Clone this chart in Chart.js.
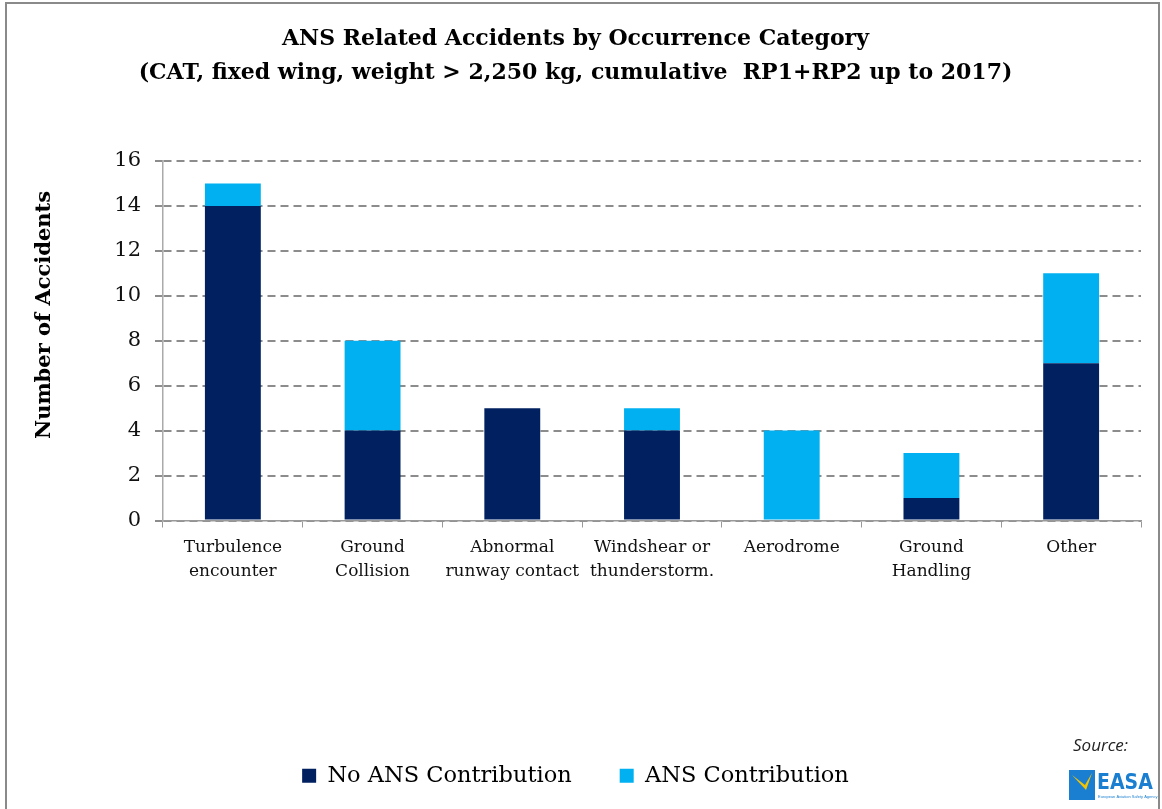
<!DOCTYPE html>
<html>
<head>
<meta charset="utf-8">
<script src="https://cdn.jsdelivr.net/npm/chart.js@4/dist/chart.umd.min.js"></script>
<style>
  html, body { margin: 0; padding: 0; background: #fff; }
  #wrap { width: 1162px; height: 809px; position: relative; }
</style>
</head>
<body>
<div id="wrap"><canvas id="chart" width="1162" height="809"></canvas></div>
<script>
// ─── DATA ───────────────────────────────────────────
const categories = [
    ['Turbulence', 'encounter'],
    ['Ground', 'Collision'],
    ['Abnormal', 'runway contact'],
    ['Windshear or', 'thunderstorm.'],
    ['Aerodrome'],
    ['Ground', 'Handling'],
    ['Other']
];
const noAnsValues = [14, 4, 5, 4, 0, 1, 7];
const ansValues = [1, 4, 0, 1, 4, 2, 4];
const yTicks = [0, 2, 4, 6, 8, 10, 12, 14, 16];
const yTitle = 'Number of Accidents';

const NAVY = '#002060';
const CYAN = '#00B0F0';
const SERIF = "'DejaVu Serif', 'Liberation Serif', serif";

// frame, y title, source / logo
const decorPlugin = {
    id: 'decor',
    afterDraw(chart) {
        const ctx = chart.ctx;
        ctx.save();
        // outer frame
        ctx.strokeStyle = '#8a8a8a';
        ctx.lineWidth = 2;
        ctx.strokeRect(6, 3, 1153, 830);

        // y axis title (Excel puts it a bit above the axis middle)
        ctx.save();
        ctx.translate(45, 315);
        ctx.rotate(-Math.PI / 2);
        ctx.fillStyle = '#000';
        ctx.font = `bold 21px ${SERIF}`;
        ctx.textAlign = 'center';
        ctx.textBaseline = 'middle';
        ctx.fillText(yTitle, 0, 0);
        ctx.restore();

        // "Source:"
        ctx.fillStyle = '#222';
        ctx.font = "italic 17px 'Open Sans', sans-serif";
        ctx.textAlign = 'left';
        ctx.textBaseline = 'middle';
        ctx.fillText('Source:', 1073, 746);

        // EASA logo (approximate)
        ctx.fillStyle = '#1a7fd0';
        ctx.fillRect(1069, 770, 26, 30);
        ctx.fillStyle = '#f5c400';
        ctx.beginPath();
        ctx.moveTo(1072, 775);
        ctx.lineTo(1085, 785);
        ctx.lineTo(1092, 773);
        ctx.lineTo(1086, 790);
        ctx.closePath();
        ctx.fill();
        ctx.fillStyle = '#1a7fd0';
        ctx.font = "bold 21px 'DejaVu Sans Condensed', 'DejaVu Sans', sans-serif";
        ctx.fillText('EASA', 1097, 784);
        ctx.font = "4px sans-serif";
        ctx.fillText('European Aviation Safety Agency', 1098, 797);
        ctx.restore();
    }
};

const ctx = document.getElementById('chart');

new Chart(ctx, {
    type: 'bar',
    data: {
        labels: categories,
        datasets: [
            {
                label: 'No ANS Contribution',
                data: noAnsValues,
                backgroundColor: NAVY,
                borderWidth: 0,
                categoryPercentage: 1,
                barPercentage: 0.4
            },
            {
                label: 'ANS Contribution',
                data: ansValues,
                backgroundColor: CYAN,
                borderWidth: 0,
                categoryPercentage: 1,
                barPercentage: 0.4
            }
        ]
    },
    options: {
        responsive: false,
        animation: false,
        layout: { padding: { left: 10, right: 21, top: 0, bottom: 12 } },
        plugins: {
            title: {
                display: true,
                text: [
                    'ANS Related Accidents by Occurrence Category',
                    '(CAT, fixed wing, weight > 2,250 kg, cumulative  RP1+RP2 up to 2017)'
                ],
                color: '#000',
                font: { family: SERIF, size: 22, weight: 'bold', lineHeight: 1.545 },
                padding: { top: 22, bottom: 71 }
            },
            legend: {
                position: 'bottom',
                labels: {
                    color: '#000',
                    font: { family: SERIF, size: 22.5 },
                    boxWidth: 14,
                    boxHeight: 14,
                    padding: 48
                }
            },
            tooltip: { enabled: false }
        },
        scales: {
            x: {
                stacked: true,
                grid: {
                    display: true,
                    drawOnChartArea: false,
                    drawTicks: true,
                    tickLength: 7,
                    color: '#999',
                    offset: true
                },
                border: { display: true, color: '#999', width: 1.5 },
                ticks: {
                    color: '#111',
                    font: { family: SERIF, size: 17, lineHeight: 1.41 },
                    padding: 8,
                    maxRotation: 0,
                    autoSkip: false
                },
                afterFit(scale) { scale.height = 196; }
            },
            y: {
                stacked: true,
                min: 0,
                max: 16,
                afterBuildTicks(scale) { scale.ticks = yTicks.map(v => ({ value: v })); },
                grid: {
                    color: '#8c8c8c',
                    lineWidth: 2,
                    tickLength: 8,
                    drawTicks: true
                },
                border: { display: true, color: '#aaa', width: 1.5, dash: [8, 5] },
                ticks: {
                    color: '#111',
                    font: { family: SERIF, size: 21 },
                    padding: 14
                },
                afterFit(scale) { scale.width = 153; }
            }
        }
    },
    plugins: [decorPlugin]
});
</script>
</body>
</html>
